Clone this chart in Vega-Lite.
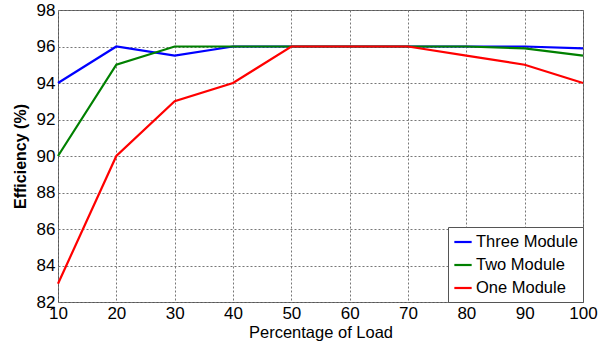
{
  "$schema": "https://vega.github.io/schema/vega-lite/v6.json",
  "autosize": "none",
  "width": 525,
  "height": 292,
  "padding": {"left": 58, "top": 10, "right": 15, "bottom": 48},
  "background": "white",
  "config": {
    "font": "Liberation Sans",
    "view": {"stroke": "#555555", "strokeWidth": 1}
  },
  "data": {
    "values": [
      {"load": 10, "eff": 94, "series": "Three Module"},
      {"load": 20, "eff": 96, "series": "Three Module"},
      {"load": 30, "eff": 95.5, "series": "Three Module"},
      {"load": 40, "eff": 96, "series": "Three Module"},
      {"load": 50, "eff": 96, "series": "Three Module"},
      {"load": 60, "eff": 96, "series": "Three Module"},
      {"load": 70, "eff": 96, "series": "Three Module"},
      {"load": 80, "eff": 96, "series": "Three Module"},
      {"load": 90, "eff": 96, "series": "Three Module"},
      {"load": 100, "eff": 95.9, "series": "Three Module"},
      {"load": 10, "eff": 90, "series": "Two Module"},
      {"load": 20, "eff": 95, "series": "Two Module"},
      {"load": 30, "eff": 96, "series": "Two Module"},
      {"load": 40, "eff": 96, "series": "Two Module"},
      {"load": 50, "eff": 96, "series": "Two Module"},
      {"load": 60, "eff": 96, "series": "Two Module"},
      {"load": 70, "eff": 96, "series": "Two Module"},
      {"load": 80, "eff": 96, "series": "Two Module"},
      {"load": 90, "eff": 95.9, "series": "Two Module"},
      {"load": 100, "eff": 95.5, "series": "Two Module"},
      {"load": 10, "eff": 83, "series": "One Module"},
      {"load": 20, "eff": 90, "series": "One Module"},
      {"load": 30, "eff": 93, "series": "One Module"},
      {"load": 40, "eff": 94, "series": "One Module"},
      {"load": 50, "eff": 96, "series": "One Module"},
      {"load": 60, "eff": 96, "series": "One Module"},
      {"load": 70, "eff": 96, "series": "One Module"},
      {"load": 80, "eff": 95.5, "series": "One Module"},
      {"load": 90, "eff": 95, "series": "One Module"},
      {"load": 100, "eff": 94, "series": "One Module"}
    ]
  },
  "mark": {"type": "line", "strokeWidth": 2.2},
  "encoding": {
    "x": {
      "field": "load", "type": "quantitative",
      "scale": {"domain": [10, 100], "nice": false, "zero": false},
      "axis": {
        "title": "Percentage of Load", "titleFontSize": 16.5, "titleFontWeight": "normal", "titleColor": "black", "titlePadding": 3,
        "values": [10, 20, 30, 40, 50, 60, 70, 80, 90, 100],
        "labelFontSize": 17, "labelColor": "black", "labelPadding": 3, "labelFlush": false,
        "domain": false, "ticks": false,
        "grid": true, "gridColor": "#777777", "gridDash": [2, 2], "gridWidth": 1
      }
    },
    "y": {
      "field": "eff", "type": "quantitative",
      "scale": {"domain": [82, 98], "nice": false, "zero": false},
      "axis": {
        "title": "Efficiency (%)", "titleFontSize": 16, "titleFontWeight": "bold", "titleColor": "black", "titlePadding": 8,
        "values": [82, 84, 86, 88, 90, 92, 94, 96, 98],
        "labelFontSize": 17, "labelColor": "black", "labelPadding": 3, "labelFlush": false,
        "domain": false, "ticks": false,
        "grid": true, "gridColor": "#777777", "gridDash": [2, 2], "gridWidth": 1
      }
    },
    "color": {
      "field": "series", "type": "nominal",
      "scale": {"domain": ["Three Module", "Two Module", "One Module"], "range": ["#0000FF", "#008000", "#FF0000"]},
      "legend": {
        "title": null, "orient": "bottom-right", "offset": 0,
        "fillColor": "white", "strokeColor": "#555555", "padding": 5,
        "symbolType": "stroke", "symbolStrokeWidth": 2.2, "symbolSize": 300,
        "labelFontSize": 16.5, "labelColor": "black", "rowPadding": 4, "labelOffset": 3
      }
    }
  }
}
